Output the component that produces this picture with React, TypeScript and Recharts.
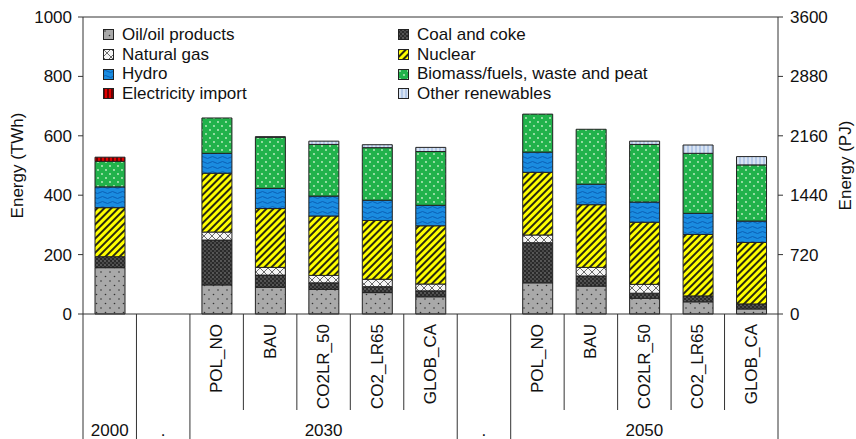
import React from 'react';
import { ComposedChart, Bar, Line, XAxis, YAxis, Legend, ReferenceLine } from 'recharts';

const FONT = '"Liberation Sans", Arial, sans-serif';

// one slot per column; "." slots are the empty spacers
const categories = ['', '', 'POL_NO', 'BAU', 'CO2LR_50', 'CO2_LR65', 'GLOB_CA', '', 'POL_NO', 'BAU', 'CO2LR_50', 'CO2_LR65', 'GLOB_CA'];
const groups = ['2000', '.', '2030', '2030', '2030', '2030', '2030', '.', '2050', '2050', '2050', '2050', '2050'];

const oil = [156, null, 98, 90, 83, 72, 58, null, 105, 94, 53, 41, 17];
const coal = [37, null, 151, 41, 22, 20, 20, null, 135, 34, 17, 20, 17];
const gas = [0, null, 27, 26, 25, 25, 23, null, 26, 29, 30, 0, 0];
const nuclear = [165, null, 198, 198, 200, 198, 196, null, 211, 211, 209, 207, 207];
const hydro = [70, null, 67, 68, 67, 68, 69, null, 68, 69, 68, 71, 72];
const biomass = [86, null, 119, 172, 174, 177, 181, null, 128, 185, 194, 202, 189];
const elecImport = [14, null, 0, 0, 0, 0, 0, null, 0, 0, 0, 0, 0];
const otherRen = [0, null, 0, 2, 11, 10, 14, null, 0, 0, 11, 28, 28];

const leftTicks = [0, 200, 400, 600, 800, 1000];
const rightTicks = [0, 720, 1440, 2160, 2880, 3600];

const series = [
  { key: 'oil', name: 'Oil/oil products', values: oil, fill: 'url(#pOil)' },
  { key: 'coal', name: 'Coal and coke', values: coal, fill: 'url(#pCoal)' },
  { key: 'gas', name: 'Natural gas', values: gas, fill: 'url(#pGas)' },
  { key: 'nuclear', name: 'Nuclear', values: nuclear, fill: 'url(#pNuc)' },
  { key: 'hydro', name: 'Hydro', values: hydro, fill: 'url(#pHydro)' },
  { key: 'biomass', name: 'Biomass/fuels, waste and peat', values: biomass, fill: 'url(#pBio)' },
  { key: 'elec', name: 'Electricity import', values: elecImport, fill: 'url(#pElec)' },
  { key: 'other', name: 'Other renewables', values: otherRen, fill: 'url(#pOther)' },
];

const data = categories.map((c, i) => {
  const row: any = { name: `${groups[i]}|${c}|${i}`, scenario: c, group: groups[i], pj: null };
  series.forEach(s => { row[s.key] = s.values[i]; });
  return row;
});

const W = 856;
const H = 439;
const M = { top: 17, left: 83, right: 78, bottom: 125 };
const SLOT = (W - M.left - M.right) / categories.length;
const AXIS = '#333';

const XTick = (props: any) => {
  const { x, y, index } = props;
  const i = index;
  const groupStart = i === 0 || groups[i] !== groups[i - 1];
  const left = x - SLOT / 2;
  const last = i === categories.length - 1;
  // middle member of the group gets the group label
  let start = i;
  while (start > 0 && groups[start - 1] === groups[i]) start--;
  let end = i;
  while (end < groups.length - 1 && groups[end + 1] === groups[i]) end++;
  const mid = Math.floor((start + end) / 2);
  return (
    <g>
      <line x1={left} x2={left} y1={y} y2={groupStart ? H : y + 96} stroke={AXIS} strokeWidth={1} />
      {last && <line x1={x + SLOT / 2} x2={x + SLOT / 2} y1={y} y2={H} stroke={AXIS} strokeWidth={1} />}
      {categories[i] && (
        <text
          transform={`translate(${x},${y + 10}) rotate(-90)`}
          textAnchor="end"
          dominantBaseline="central"
          fontSize={17}
          fontFamily={FONT}
          fill="#111"
        >
          {categories[i]}
        </text>
      )}
      {i === mid && (
        <text
          x={x + ((end - start) % 2 === 1 ? SLOT / 2 : 0)}
          y={y + 116}
          textAnchor="middle"
          dominantBaseline="central"
          fontSize={17}
          fontFamily={FONT}
          fill="#111"
        >
          {groups[i]}
        </text>
      )}
    </g>
  );
};

const legendOrder = ['oil', 'coal', 'gas', 'nuclear', 'hydro', 'biomass', 'elec', 'other'];

const LegendBox = () => (
  <div style={{ display: 'grid', gridTemplateColumns: '295px 300px', fontFamily: FONT, fontSize: 17, lineHeight: '19.7px', color: '#111' }}>
    {legendOrder.map(k => {
      const s = series.find(ss => ss.key === k)!;
      return (
        <div key={k} style={{ display: 'flex', alignItems: 'center', whiteSpace: 'nowrap' }}>
          <svg width={11} height={11} style={{ marginRight: 8, flex: 'none' }}>
            <rect x={0.5} y={0.5} width={10} height={10} fill={s.fill} stroke="#222" strokeWidth={1} />
          </svg>
          <span>{s.name}</span>
        </div>
      );
    })}
  </div>
);

const titleStyle = { textAnchor: 'middle', fontSize: 17, fontFamily: FONT, fill: '#111' } as any;

export default function App() {
  return (
    <div style={{ position: 'fixed', left: 0, top: 0, width: W, height: H, background: '#fff' }}>
      <ComposedChart width={W} height={H} data={data} margin={{ top: M.top, right: 0, left: 0, bottom: 0 }}>
        <defs>
          <pattern id="pOil" width={9} height={9} patternUnits="userSpaceOnUse">
            <rect width={9} height={9} fill="#a9a9a9" />
            <circle cx={2} cy={2} r={0.8} fill="#333" />
            <circle cx={6.5} cy={6.5} r={0.8} fill="#333" />
          </pattern>
          <pattern id="pCoal" width={4} height={4} patternUnits="userSpaceOnUse">
            <rect width={4} height={4} fill="#2a2a2a" />
            <circle cx={1} cy={1} r={0.9} fill="#6a6a6a" />
            <circle cx={3} cy={3} r={0.9} fill="#575757" />
          </pattern>
          <pattern id="pGas" width={8} height={8} patternUnits="userSpaceOnUse">
            <rect width={8} height={8} fill="#f4f4f4" />
            <path d="M0 0 L8 8 M8 0 L0 8" stroke="#6b6b6b" strokeWidth={1} />
          </pattern>
          <pattern id="pNuc" width={5} height={5} patternUnits="userSpaceOnUse" patternTransform="rotate(45)">
            <rect width={5} height={5} fill="#ffff00" />
            <line x1={1} y1={0} x2={1} y2={5} stroke="#111" strokeWidth={1.8} />
          </pattern>
          <pattern id="pHydro" width={10} height={5} patternUnits="userSpaceOnUse">
            <rect width={10} height={5} fill="#1a8ce0" />
            <path d="M0 2.5 Q2.5 0.5 5 2.5 T10 2.5" stroke="#0b5fb5" strokeWidth={1} fill="none" />
          </pattern>
          <pattern id="pBio" width={8} height={8} patternUnits="userSpaceOnUse">
            <rect width={8} height={8} fill="#21b24b" />
            <circle cx={2} cy={2} r={0.9} fill="#c8f0c8" />
            <circle cx={6} cy={6} r={0.9} fill="#c8f0c8" />
          </pattern>
          <pattern id="pElec" width={4} height={4} patternUnits="userSpaceOnUse">
            <rect width={4} height={4} fill="#e00000" />
            <line x1={1} y1={0} x2={1} y2={4} stroke="#300" strokeWidth={1.3} />
          </pattern>
          <pattern id="pOther" width={4} height={4} patternUnits="userSpaceOnUse">
            <rect width={4} height={4} fill="#b4c9e8" />
            <line x1={2} y1={0} x2={2} y2={4} stroke="#fff" strokeWidth={1} />
          </pattern>
        </defs>
        <XAxis
          dataKey="name"
          height={M.bottom}
          interval={0}
          tickSize={0}
          tickMargin={0}
          tickLine={false}
          axisLine={{ stroke: AXIS, strokeWidth: 1 }}
          tick={<XTick />}
        />
        <YAxis
          yAxisId="left"
          width={M.left}
          domain={[0, 1000]}
          ticks={leftTicks}
          interval={0}
          tickSize={5}
          tickMargin={6}
          axisLine={{ stroke: AXIS }}
          tickLine={{ stroke: AXIS }}
          tick={{ fontSize: 17, fontFamily: FONT, fill: '#111' }}
          label={{ value: 'Energy (TWh)', angle: -90, position: 'insideLeft', offset: 17, style: titleStyle }}
        />
        <YAxis
          yAxisId="right"
          orientation="right"
          width={M.right}
          domain={[0, 3600]}
          ticks={rightTicks}
          interval={0}
          allowDataOverflow
          tickSize={5}
          tickMargin={7}
          axisLine={{ stroke: AXIS }}
          tickLine={{ stroke: AXIS }}
          tick={{ fontSize: 17, fontFamily: FONT, fill: '#111' }}
          label={{ value: 'Energy (PJ)', angle: -90, position: 'insideRight', offset: 11, style: titleStyle }}
        />
        <ReferenceLine yAxisId="left" y={1000} stroke={AXIS} strokeWidth={1} />
        <Legend
          layout="horizontal"
          verticalAlign="middle"
          align="center"
          content={<LegendBox />}
          wrapperStyle={{ left: 103, top: 25, width: 600 }}
        />
        {series.map(s => (
          <Bar
            key={s.key}
            yAxisId="left"
            dataKey={s.key}
            name={s.name}
            stackId="a"
            fill={s.fill}
            stroke="#222"
            strokeWidth={1}
            barSize={30}
            isAnimationActive={false}
          />
        ))}
        <Line
          yAxisId="right"
          dataKey="pj"
          stroke="none"
          dot={false}
          activeDot={false}
          legendType="none"
          isAnimationActive={false}
        />
      </ComposedChart>
    </div>
  );
}
